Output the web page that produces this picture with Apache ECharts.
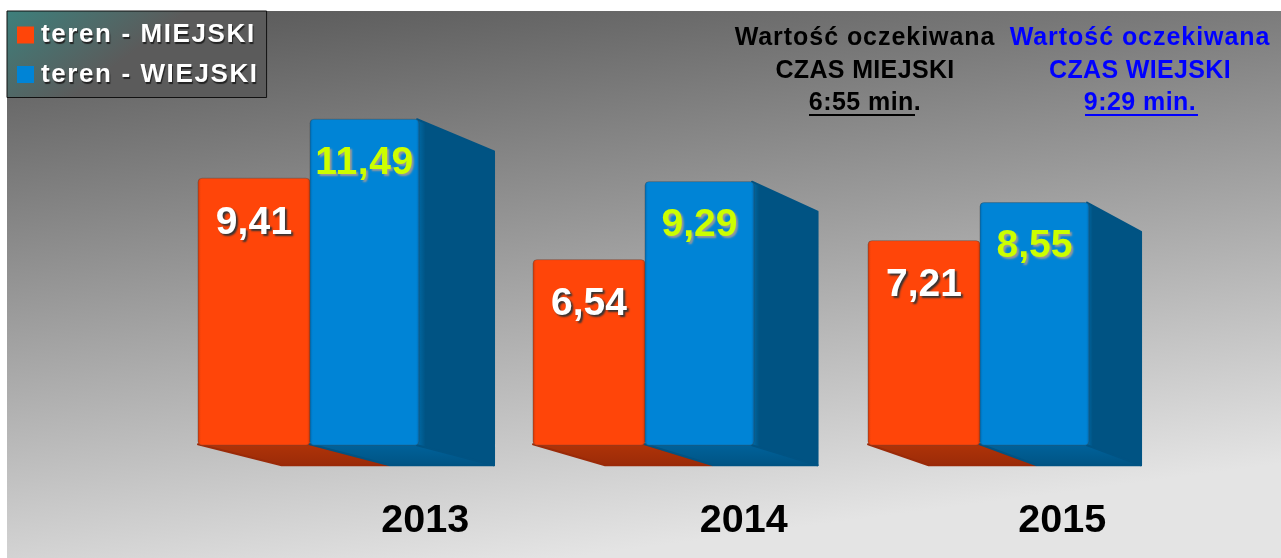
<!DOCTYPE html>
<html><head><meta charset="utf-8">
<style>html,body{margin:0;padding:0;background:#fff}#c{width:1281px;height:558px}</style>
<script src="https://cdn.jsdelivr.net/npm/echarts@6/dist/echarts.min.js"></script>
</head><body><div id="c"></div>
<script>
const categories = ['2013','2014','2015'];
const miejski = [9.41, 6.54, 7.21];
const wiejski = [11.49, 9.29, 8.55];
const seriesNames = ['teren - MIEJSKI','teren - WIEJSKI'];
const noteBlack = ['Wartość oczekiwana','CZAS MIEJSKI','6:55 min.'];
const noteBlue = ['Wartość oczekiwana','CZAS WIEJSKI','9:29 min.'];
const FONT = '"Liberation Sans", Arial, sans-serif';

// letter spacing (px) for the strings the reference tracks out; the canvas renderer has no option for it
const tracking = {'teren - MIEJSKI':1.6,'teren - WIEJSKI':1.6,'Wartość oczekiwana':0.95,'CZAS MIEJSKI':0.35,'CZAS WIEJSKI':0.35,'6:55 min.':0.45,'9:29 min.':0.45,'11,49':0.6,'9,41':0.2};
const nativeFill = CanvasRenderingContext2D.prototype.fillText;
CanvasRenderingContext2D.prototype.fillText = function(t, x, y, m){
  const s = tracking[t];
  if (s) this.letterSpacing = s + 'px';
  if (m === undefined) nativeFill.call(this, t, x, y); else nativeFill.call(this, t, x, y, m);
  if (s) this.letterSpacing = '0px';
};

const K = 0.9657, DX = 90.4, DY = 36.3;
const back = (x, y) => [x * K + DX, y * K + DY];
const hGrad = (edge, main) => ({type:'linear',x:0,y:0,x2:1,y2:0,colorStops:[
  {offset:0,color:edge},{offset:0.03,color:main},{offset:0.97,color:main},{offset:1,color:edge}]});
const fmt = v => v.toFixed(2).replace('.', ',');

function bar3d(opts){
  return function(params, api){
    const cat = api.value(0), val = api.value(1);
    const top = api.coord([cat, val]), base = api.coord([cat, 0]);
    const band = api.size([1,0])[0];
    const x0 = top[0] + opts.from * band, x1 = top[0] + opts.to * band;
    const yT = top[1], yB = base[1];
    const b00 = back(x0,yB), b10 = back(x1,yB), b1T = back(x1,yT);
    const children = [];
    children.push({type:'polygon',shape:{points:[[x0,yB-1],[b00[0],b00[1]-1],[b10[0]-1,b10[1]-1],[x1,yB-1]]},
      style:{fill:{type:'linear',x:0,y:0,x2:0,y2:1,colorStops:[{offset:0,color:opts.floorA},{offset:1,color:opts.floorB}]},
        stroke:opts.floorB,lineWidth:2,lineJoin:'round'}});
    if(opts.side){
      children.push({type:'polygon',shape:{points:[[x1-2,yT],[b1T[0]-1,b1T[1]],[b1T[0]-1,b10[1]-1],[x1-2,yB]]},
        style:{fill:{type:'linear',x:0,y:0,x2:1,y2:0,colorStops:[{offset:0,color:opts.sideA},{offset:0.12,color:opts.side},{offset:1,color:opts.side}]},
          stroke:opts.side,lineWidth:2,lineJoin:'round'}});
    }
    children.push({type:'rect',shape:{x:x0,y:yT,width:x1-x0,height:yB-yT,r:4},
      style:{fill:hGrad(opts.edge,opts.main),stroke:'rgba(60,60,60,0.35)',lineWidth:1}});
    children.push({type:'text',x:(x0+x1)/2,y:yT+opts.labelDy,
      style:{text:fmt(val),fill:opts.text,font:'bold 39px '+FONT,textAlign:'center',textVerticalAlign:'middle',
        textShadowColor:opts.shadow,textShadowBlur:2,textShadowOffsetX:2,textShadowOffsetY:2}});
    return {type:'group',children};
  };
}

const note = (lines, cx, fill) => lines.map((t,i)=>({type:'text',x:cx,y:38.5+i*32.5,
  style:{text:t,fill,font:'bold 25px '+FONT,textAlign:'center',textVerticalAlign:'middle'}}));

const chart = echarts.init(document.getElementById('c'),null,{renderer:'canvas'});
chart.setOption({
  animation:false,
  backgroundColor:'#fff',
  grid:[
    {left:142.5,width:1005,top:48,height:397.2},
    {left:266,width:955.5,top:48,height:397.2}
  ],
  xAxis:[
    {type:'category',gridIndex:0,data:categories,show:false},
    {type:'category',gridIndex:1,data:categories,axisLine:{show:false},axisTick:{show:false},
     axisLabel:{color:'#000',fontFamily:FONT,fontWeight:'bold',fontSize:39.5,margin:56}}
  ],
  yAxis:[
    {type:'value',gridIndex:0,min:0,max:14,show:false},
    {type:'value',gridIndex:1,min:0,max:14,show:false}
  ],
  legend:{
    left:7,top:11,orient:'vertical',selectedMode:false,icon:'rect',
    itemWidth:17,itemHeight:17,itemGap:13.5,padding:[11,32,10,10],
    data:seriesNames,
    backgroundColor:{type:'linear',x:0,y:0,x2:0.25,y2:1,colorStops:[{offset:0,color:'#3d807c'},{offset:1,color:'#5b5b5b'}]},
    borderColor:'#111',borderWidth:1,
    textStyle:{color:'#fff',fontFamily:FONT,fontWeight:'bold',fontSize:26,padding:[4,0,0,2],
      textShadowColor:'#222',textShadowBlur:1,textShadowOffsetX:1,textShadowOffsetY:2}
  },
  graphic:{elements:[
    {type:'rect',z:-10,shape:{x:7,y:11,width:1274,height:547},silent:true,
     style:{fill:{type:'linear',x:0,y:0,x2:0.063,y2:1.115,colorStops:[{offset:0,color:'#555555'},{offset:1,color:'#e4e4e4'}]}}},
    ...note(noteBlack,865,'#000'),
    ...note(noteBlue,1140,'#0000ff'),
    {type:'rect',shape:{x:809,y:114,width:106,height:2},style:{fill:'#000'}},
    {type:'rect',shape:{x:1085,y:114,width:113,height:2},style:{fill:'#0000ff'}}
  ]},
  series:[
    {type:'custom',name:seriesNames[0],xAxisIndex:0,yAxisIndex:0,coordinateSystem:'cartesian2d',
     itemStyle:{color:'#ff4509'},encode:{x:0,y:1},
     renderItem:bar3d({from:-112/335,to:0,main:'#ff4509',edge:'#c93a0c',floorA:'#b03408',floorB:'#9a2a08',text:'#fff',shadow:'#333',labelDy:45}),
     data:miejski.map((v,i)=>[i,v])},
    {type:'custom',name:seriesNames[1],xAxisIndex:0,yAxisIndex:0,coordinateSystem:'cartesian2d',
     itemStyle:{color:'#0084d6'},encode:{x:0,y:1},
     renderItem:bar3d({from:0,to:109/335,main:'#0084d6',edge:'#006ab0',floorA:'#00639c',floorB:'#005383',side:'#005383',sideA:'#006fae',text:'#ccff00',shadow:'#999',labelDy:44}),
     data:wiejski.map((v,i)=>[i,v])}
  ]
});
</script></body></html>
